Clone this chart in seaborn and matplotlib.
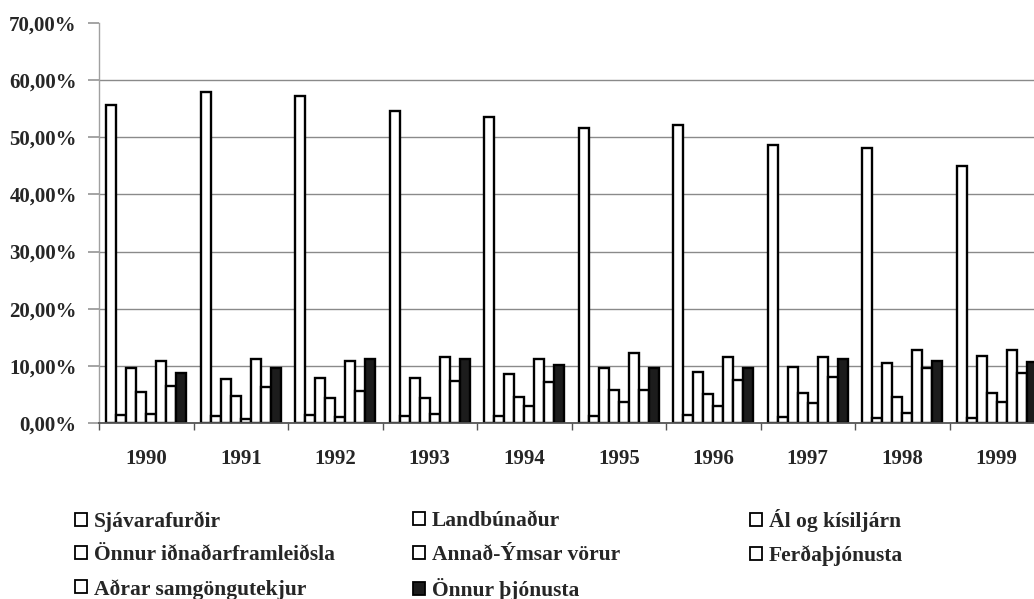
import numpy as np
import pandas as pd
import seaborn as sns
import matplotlib.pyplot as plt
from matplotlib.patches import Patch

sns.set_theme(style="white")
plt.rcParams['font.family'] = ['Liberation Serif', 'DejaVu Serif']
plt.rcParams['font.weight'] = 'bold'

years = ['1990', '1991', '1992', '1993', '1994', '1995', '1996', '1997', '1998', '1999']
series = [
    'Sjávarafurðir', 'Landbúnaður', 'Ál og kísiljárn',
    'Önnur iðnaðarframleiðsla', 'Annað-Ýmsar vörur', 'Ferðaþjónusta',
    'Aðrar samgöngutekjur', 'Önnur þjónusta',
]

sjavarafurdir = [55.7, 58.0, 57.2, 54.6, 53.6, 51.7, 52.1, 48.7, 48.1, 45.0]
landbunadur = [1.4, 1.3, 1.4, 1.2, 1.3, 1.2, 1.4, 1.0, 0.8, 0.8]
al_kisiljarn = [9.7, 7.7, 7.9, 7.8, 8.6, 9.7, 9.0, 9.8, 10.5, 11.8]
onnur_idnadur = [5.5, 4.7, 4.4, 4.4, 4.6, 5.8, 5.0, 5.2, 4.6, 5.2]
annad_ymsar = [1.6, 0.7, 1.0, 1.6, 3.0, 3.6, 2.9, 3.5, 1.7, 3.6]
ferdathjonusta = [10.9, 11.2, 10.9, 11.5, 11.2, 12.2, 11.6, 11.5, 12.8, 12.8]
adrar_samgongu = [6.5, 6.3, 5.6, 7.4, 7.1, 5.8, 7.5, 8.1, 9.6, 8.8]
onnur_thjonusta = [8.7, 9.7, 11.2, 11.2, 10.2, 9.6, 9.7, 11.2, 10.8, 10.6]

values = [sjavarafurdir, landbunadur, al_kisiljarn, onnur_idnadur,
          annad_ymsar, ferdathjonusta, adrar_samgongu, onnur_thjonusta]

df = pd.DataFrame([
    {'year': y, 'series': s, 'value': v}
    for s, vals in zip(series, values)
    for y, v in zip(years, vals)
])

palette = {s: 'white' for s in series}
palette['Önnur þjónusta'] = '#1c1c1c'

fig = plt.figure(figsize=(10.34, 5.99), dpi=100)
ax = fig.add_axes([99 / 1034, 176 / 599, 945 / 1034, 400 / 599])

sns.barplot(data=df, x='year', y='value', hue='series', hue_order=series,
            palette=palette, saturation=1, edgecolor='black', linewidth=1.7,
            width=0.85, legend=False, ax=ax)

ax.set_xlim(-0.5, 9.5)
ax.set_ylim(0, 70)
ax.set_xlabel('')
ax.set_ylabel('')

yt = np.arange(0, 71, 10)
ax.set_yticks(yt)
ax.set_yticklabels([f'{v:.2f}%'.replace('.', ',') for v in yt], fontsize=15, fontweight='bold')
ax.set_xticklabels(years, fontsize=15, fontweight='bold')
ax.set_xticks(np.arange(-0.5, 10, 1), minor=True)

ax.tick_params(axis='x', which='major', length=0, pad=19)
ax.tick_params(axis='x', which='minor', length=5, color='#555555', bottom=True)
ax.tick_params(axis='y', which='major', length=8, color='#999999', pad=8, left=True)

ax.set_axisbelow(True)
ax.yaxis.grid(True, color='#8a8a8a', linewidth=1.0)
ax.get_ygridlines()[-1].set_visible(False)

for side in ['top', 'right']:
    ax.spines[side].set_visible(False)
ax.spines['left'].set_color('#a0a0a0')
ax.spines['left'].set_linewidth(1.0)
ax.spines['bottom'].set_color('#555555')
ax.spines['bottom'].set_linewidth(1.3)

# legend: three separate columns, row-major order like the original
handles = [Patch(facecolor=palette[s], edgecolor='black', linewidth=1.3) for s in series]
columns = [[0, 3, 6], [1, 4, 7], [2, 5]]
col_x = [71, 409, 746]
col_top = [507, 507, 505]
for cx, cy, idx in zip(col_x, col_top, columns):
    fig.legend([handles[i] for i in idx], [series[i] for i in idx],
               loc='upper left', bbox_to_anchor=(cx / 1034, 1 - cy / 599),
               frameon=False, handlelength=0.55, handleheight=0.55,
               handletextpad=0.3, labelspacing=0.62, borderaxespad=0, borderpad=0.2,
               prop={'weight': 'bold', 'size': 15.5})

fig.savefig('out.png', dpi=100)
